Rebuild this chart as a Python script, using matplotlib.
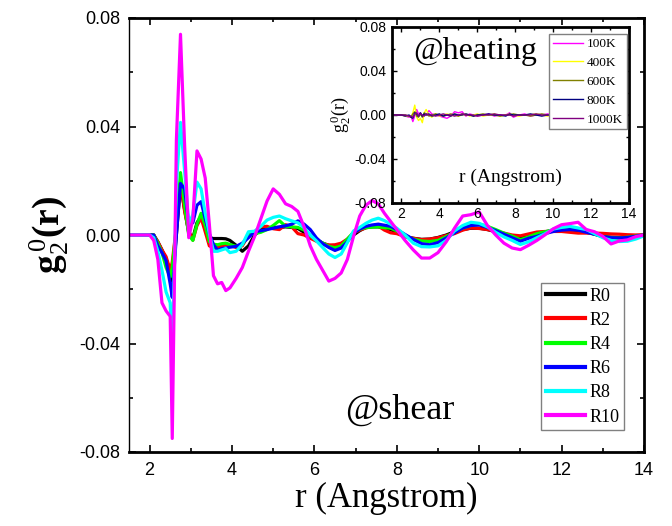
import numpy as np
import matplotlib
matplotlib.use("Agg")
import matplotlib.pyplot as plt
from matplotlib.ticker import MultipleLocator, FormatStrFormatter

plt.rcParams.update({
    "font.family": "Liberation Serif",
    "mathtext.fontset": "custom",
    "mathtext.rm": "Liberation Serif",
    "mathtext.it": "Liberation Serif:italic",
    "mathtext.bf": "Liberation Serif:bold",
})

# radial grid (Angstrom) for the shear series
r = [1.5, 2.0, 2.1, 2.2, 2.3, 2.4, 2.5, 2.55, 2.65, 2.75, 2.85, 2.95, 3.05, 3.15,
     3.25, 3.35, 3.45, 3.55, 3.65, 3.75, 3.85, 3.95, 4.1, 4.25, 4.4, 4.55, 4.7,
     4.85, 5.0, 5.15, 5.3, 5.45, 5.6, 5.75, 5.9, 6.05, 6.2, 6.35, 6.5, 6.65, 6.8,
     6.95, 7.1, 7.25, 7.4, 7.55, 7.7, 7.85, 8.0, 8.2, 8.4, 8.6, 8.8, 9.0, 9.2,
     9.4, 9.6, 9.8, 10.0, 10.2, 10.4, 10.6, 10.8, 11.0, 11.2, 11.4, 11.6, 11.8,
     12.0, 12.2, 12.4, 12.6, 12.8, 13.0, 13.2, 13.4, 13.6, 13.8, 14.0]

# g2^0(r) in units of 1e-3
R0 = [0, 0, 0, -2.5, -5.5, -9, -13, -17, 0, 18.6, 9.3, 0.8, -1.1, 4.5,
      6.9, 2.4, -1, -1.3, -1.3, -1.3, -1.4, -2, -3.8, -6.0, -4, 0, 2,
      2.6, 2.8, 2.8, 3, 2.8, 2.4, 1, -0.5, -1.7, -3, -3.8, -4.2, -3.6, -2,
      0, 1.6, 2.8, 3, 3, 2.6, 2, 1, -0.6, -1.2, -1.6, -1.5, -0.9, 0,
      1.2, 2, 2.5, 2.5, 2, 1.2, 0.2, -0.7, -1.1, -0.3, 0.5, 1.2, 1.7,
      2, 1.8, 1.5, 1, 0.3, -0.5, -0.8, -0.9, -0.6, -0.2, 0]
R2 = [0, 0, 0, -2.5, -5.5, -8, -13, -10, 3, 19.8, 8.7, 1.5, -1.9, 3.5,
      6.3, 1.2, -4, -4.8, -4.6, -4, -3.6, -3.8, -4.6, -4, 0, 1.2, 3,
      3.2, 2.3, 2, 3.8, 3, 0.5, 0, -1.2, -2.3, -3.2, -3.7, -3.6, -3, -1.5,
      0.8, 1.8, 2.6, 3.2, 3.3, 1.8, 0.8, 0.5, -0.6, -1.2, -1.7, -1.5, -1, -0.2,
      0.5, 1.8, 2.6, 2.4, 2, 1.4, 0.7, 0, -0.3, 0.4, 1.1, 1.3, 1.3,
      1.3, 1, 0.7, 0.7, 0.7, 0.6, 0.4, 0.3, 0.1, 0, 0]
R4 = [0, 0, 0, -3, -6.5, -12, -15.5, -12, 3, 23, 11, 0, -2, 4,
      8, 3.5, -2.5, -3.4, -3.6, -3.2, -3, -3.5, -4.2, -3.5, 0, 0.5, 1,
      2, 3.5, 5.3, 3.2, 3, 2.8, 1.8, -0.3, -1.8, -2.9, -4.2, -4.7, -4, -1.5,
      1, 2.2, 2.7, 2.9, 3, 2.7, 2.5, 1.5, -0.3, -1.5, -2.2, -2.4, -2, -0.6,
      1, 2.6, 3.5, 4, 3.2, 2, 0.7, -0.4, -1.7, -0.7, 0.5, 1.2, 1.9,
      2.5, 2.4, 2, 1.2, 0.3, -0.6, -1, -1.1, -0.8, -0.4, 0]
R6 = [0, 0, 0, -4, -6.5, -9.5, -18, -23, 0, 19, 17, 4, 4.5, 11,
      12.3, 6, 0.5, -3.5, -5.6, -5, -4.8, -4.5, -4.2, -3, -1, 1.2, 1.6,
      2, 2.5, 3, 3.4, 4, 5.2, 4, 2, -1.1, -3.2, -4.6, -5.7, -4.8, -2.5,
      0.7, 2.2, 3.2, 3.7, 4, 3.6, 3.2, 2, 0.2, -1.6, -3.2, -3.6, -2.8, -1.1,
      0.8, 2.6, 3.5, 3.7, 2.8, 1.6, 0.3, -1, -2.3, -1.2, -0.5, 0.5, 1.3,
      1.8, 2, 1.8, 1, 0.3, -0.6, -1, -1.1, -0.9, -0.5, 0]
R8 = [0, 0, -1, -6, -13, -21, -25, -45, 18.6, 41.5, 23.5, 4, 7.5, 19.5,
      17, 8, 0.5, -6, -6, -5.5, -5, -6.5, -6, -3.5, 1.2, 1.4, 3.2,
      5.5, 6.5, 7, 6, 5.2, 4.5, 2.7, 0, -2.2, -4.6, -7, -8.3, -7, -2.8,
      1.5, 2.8, 4.3, 5.5, 6.2, 5.3, 4, 2.5, 0, -3, -4.3, -4.4, -4, -2,
      1.5, 3.5, 4.7, 4.3, 3, 1, -0.7, -2, -3.5, -2.5, -1, 0.5, 2.2,
      2.8, 3.2, 2.6, 2, 0.5, -1, -2, -2.4, -2.3, -1.5, -0.3]
R10 = [0, 0, -2, -9, -25, -28, -30, -75, 35, 74, 33, -1, 6, 31,
       28, 21, 4, -15, -18, -17.5, -20.5, -19.5, -16, -12, -6, -0.5, 6,
       12.5, 17, 15, 11.5, 10.5, 8.7, 3, -4, -9, -13, -17, -16, -14, -9,
       -0.5, 7, 11, 12.7, 11.5, 8, 5, 2, -2, -5.5, -8.5, -8.5, -6.5, -2.5,
       2.5, 7, 7.5, 8.5, 3.5, 0, -3, -4.8, -5.4, -3.8, -2, 0.1, 2.3,
       3.8, 4.2, 4.7, 2, 1.2, -0.5, -3.3, -2.2, -1.8, -0.6, 0]

shear_labels = ["R0", "R2", "R4", "R6", "R8", "R10"]
shear_colors = ["#000000", "#ff0000", "#00ff00", "#0000ff", "#00ffff", "#ff00ff"]

# heating series, same units
r_heat = [1.5, 2.0, 2.2, 2.4, 2.5, 2.6, 2.7, 2.8, 2.9, 3.0, 3.1, 3.2, 3.3, 3.45,
          3.6, 3.8, 4.0, 4.2, 4.4, 4.6, 4.8, 5.0, 5.2, 5.4, 5.6, 5.8, 6.0, 6.3,
          6.6, 6.9, 7.2, 7.5, 7.7, 7.9, 8.2, 8.5, 8.8, 9.1, 9.4, 9.7, 10.0, 10.5,
          11.0, 11.5, 12.0, 12.5, 13.0, 13.5, 14.0]
T100 = [0, 0, -1, -2, -1, -6, -1, 5, 1, 2, -2, 1, 0, 4, 1, 0, -1, -2, -3, -1, 3,
        2, 3, -1, 1, 0, -1, 0, 1, -1, 0, 0, 2, -2, 0, 1, -1, 0, 0, 1, 0, 0, 1,
        0, 0, 0, 0, 0, 0]
T400 = [0, 0, -1, -1, -2, 2, 9, -2, -5, -3, -7, 2, 5, 0, -2, 1, -1, 0, 1, -1, 1,
        -1, 0, 1, -1, 0, 1, -1, 0, 1, -1, 0, 1, 0, -1, 0, 0, 1, 0, -1, 0, 1, 0,
        0, 0, 0, 0, 0, 0]
T600 = [0, 0, 0, -1, -2, 1, 3, -1, -2, 1, -2, 2, 1, -1, 0, 1, 0, -1, 0, 1, 0,
        -1, 1, 0, 0, -1, 0, 1, 0, 0, -1, 0, 0, 1, 0, 0, -1, 0, 1, 0, 0, 0, 0,
        0, 0, 0, 0, 0, 0]
T800 = [0, 0, -1, 0, -2, -3, 2, 1, -1, 2, -1, 1, 0, 1, -1, 0, 1, -1, 0, -1, 1,
        0, 0, 1, 0, -1, 0, 0, 1, 0, 0, -1, 1, 0, 0, 0, 1, 0, -1, 0, 0, 0, 0,
        0, 0, 0, 0, 0, 0]
T1000 = [0, 0, 0, -1, -1, -2, 1, 2, -1, 1, 0, -1, 1, 0, 0, -1, 0, 1, 0, 0, -1,
         0, 1, 0, 0, 0, -1, 0, 0, 1, 0, 0, 0, -1, 0, 0, 0, 1, 0, 0, 0, 0, 0,
         0, 0, 0, 0, 0, 0]

heat_labels = ["100K", "400K", "600K", "800K", "1000K"]
heat_colors = ["#ff00ff", "#ffff00", "#808000", "#000080", "#800080"]

SANS = "Liberation Sans"


def style_axes(ax, tick_size, major_len, minor_len, lw):
    ax.set_xlim(1.5, 14)
    ax.set_ylim(-0.08, 0.08)
    ax.xaxis.set_major_locator(MultipleLocator(2))
    ax.xaxis.set_minor_locator(MultipleLocator(1))
    ax.yaxis.set_major_locator(MultipleLocator(0.04))
    ax.yaxis.set_minor_locator(MultipleLocator(0.02))
    ax.yaxis.set_major_formatter(FormatStrFormatter("%.2f"))
    ax.tick_params(which="both", direction="in", top=True, right=True, width=lw)
    ax.tick_params(which="major", length=major_len)
    ax.tick_params(which="minor", length=minor_len)
    for lab in ax.get_xticklabels() + ax.get_yticklabels():
        lab.set_family(SANS)
        lab.set_fontsize(tick_size)


fig = plt.figure(figsize=(6.72, 5.26), dpi=100)
ax = fig.add_axes([129 / 672, 74 / 526, 515 / 672, 434 / 526])

for ys, lab, col in zip([R0, R2, R4, R6, R8, R10], shear_labels, shear_colors):
    ax.plot(r, np.array(ys) * 1e-3, color=col, lw=2.3, label=lab)

style_axes(ax, 13, 5, 3, 1.2)
ax.tick_params(axis="y", pad=6)
ax.tick_params(axis="x", pad=7)
for side in ["top", "right", "bottom"]:
    ax.spines[side].set_linewidth(2.0)
ax.spines["left"].set_linewidth(1.0)

ax.set_xlabel("r (Angstrom)", fontsize=25, labelpad=2)
ax.set_ylabel(r"$\mathbf{g}_{2}^{\,0}\mathbf{(r)}$", fontsize=27, labelpad=6)

leg = ax.legend(loc="upper left", bbox_to_anchor=(541 / 672, 1 - 283 / 526),
                bbox_transform=fig.transFigure, borderaxespad=0, fontsize=13,
                handlelength=2.2, handletextpad=0.25, labelspacing=0.4,
                borderpad=0.25, fancybox=False, framealpha=1, edgecolor="#808080")
leg.get_frame().set_linewidth(1.0)
for ln in leg.get_lines():
    ln.set_linewidth(3)

fig.text(345 / 672, 1 - 410 / 526, "@shear", fontsize=26, va="center")

# inset: heating
ins = fig.add_axes([392 / 672, 1 - 203 / 526, 237 / 672, 176 / 526])
ins.set_facecolor("white")
for ys, lab, col in zip([T100, T400, T600, T800, T1000], heat_labels, heat_colors):
    ins.plot(r_heat, np.array(ys) * 1e-3, color=col, lw=1.0, label=lab)

style_axes(ins, 10, 3.5, 2, 1.0)
ins.tick_params(axis="y", pad=4)
ins.tick_params(axis="x", pad=3)
for side in ins.spines:
    ins.spines[side].set_linewidth(2.0)

ins.set_ylabel(r"$\mathrm{g}_{2}^{\,0}\mathrm{(r)}$", fontsize=13, labelpad=2)
ins.text(0.5, 0.145, "r (Angstrom)", transform=ins.transAxes, ha="center",
         va="center", fontsize=14)
ins.text(0.09, 0.86, "@heating", transform=ins.transAxes, ha="left",
         va="center", fontsize=23)

ileg = ins.legend(loc="upper left", bbox_to_anchor=(549 / 672, 1 - 34 / 526),
                  bbox_transform=fig.transFigure, borderaxespad=0, fontsize=9.5,
                  handlelength=2.3, handletextpad=0.25, labelspacing=0.5,
                  borderpad=0.3, fancybox=False, framealpha=1, edgecolor="#808080")
ileg.get_frame().set_linewidth(1.0)

fig.savefig("out.png", dpi=100)
